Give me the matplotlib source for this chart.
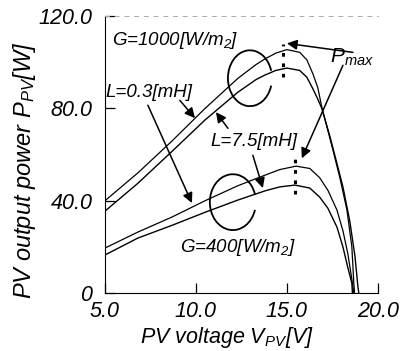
import matplotlib
matplotlib.use("Agg")
import matplotlib.pyplot as plt
from matplotlib.patches import Arc

plt.rcParams["font.family"] = ["Liberation Sans", "DejaVu Sans"]
plt.rcParams["font.style"] = "italic"
plt.rcParams["mathtext.fontset"] = "custom"
plt.rcParams["mathtext.rm"] = "Liberation Sans:italic"
plt.rcParams["mathtext.it"] = "Liberation Sans:italic"
plt.rcParams["mathtext.sf"] = "Liberation Sans:italic"

# G=1000 W/m2, L=0.3 mH (upper curve)
v_1000_03 = [5.0, 6.8, 8.7, 10.5, 12.3, 13.3, 13.8, 14.4, 15.0, 15.71, 16.10, 16.43, 16.70, 16.92,
             17.20, 17.53, 17.91, 18.30, 18.57, 18.68, 18.72]
p_1000_03 = [40.0, 52.0, 66.0, 80.0, 93.0, 99.0, 101.5, 104.0, 105.5, 104.3, 101.0, 95.0, 89.0, 80.5,
             72.0, 62.0, 50.0, 36.0, 20.0, 4.0, 0.0]
# G=1000 W/m2, L=7.5 mH
v_1000_75 = [5.0, 6.8, 8.7, 10.5, 12.3, 13.3, 13.8, 14.4, 15.0, 15.7, 16.1, 16.43, 16.7, 16.92,
             17.36, 17.69, 18.08, 18.46, 18.74, 18.9, 18.95]
p_1000_75 = [35.5, 47.5, 61.5, 75.0, 87.0, 92.5, 94.5, 96.5, 97.5, 96.5, 93.5, 88.5, 84.0, 80.0,
             68.0, 58.0, 46.0, 31.0, 16.0, 3.0, 0.0]
# G=400 W/m2, L=0.3 mH
v_400_03 = [5.0, 6.8, 8.7, 10.5, 12.3, 13.6, 14.6, 15.5, 16.26, 16.8, 17.25, 17.75, 18.08, 18.35,
            18.55, 18.68]
p_400_03 = [19.5, 26.4, 33.0, 40.0, 46.5, 50.5, 53.5, 55.0, 54.0, 50.0, 44.6, 36.0, 27.0, 17.0,
            7.0, 0.0]
# G=400 W/m2, L=7.5 mH
v_400_75 = [5.0, 6.8, 8.7, 10.5, 12.3, 13.8, 14.6, 15.44, 16.26, 16.8, 17.25, 17.75, 18.08, 18.35,
            18.57, 18.6]
p_400_75 = [16.5, 23.8, 29.4, 35.0, 40.3, 44.3, 46.0, 46.8, 45.5, 41.6, 36.8, 28.6, 20.0, 11.0,
            4.3, 0.0]

# Pmax markers (voltage, low power, high power)
pmax_1000 = (14.8, 93.5, 108.0)
pmax_400 = (15.45, 43.0, 59.0)

xticks = [5, 10, 15, 20]
xlabels = ["5.0", "10.0", "15.0", "20.0"]
yticks = [0, 40, 80, 120]
ylabels = ["0", "40.0", "80.0", "120.0"]

fig = plt.figure(figsize=(4.02, 3.51), dpi=100)
ax = fig.add_axes([0.261, 0.165, 0.679, 0.789])

ax.plot(v_1000_03, p_1000_03, color="black", lw=0.9)
ax.plot(v_1000_75, p_1000_75, color="black", lw=1.0)
ax.plot(v_400_03, p_400_03, color="black", lw=0.9)
ax.plot(v_400_75, p_400_75, color="black", lw=1.0)

for v, lo, hi in [pmax_1000, pmax_400]:
    ax.plot([v, v], [lo, hi], color="black", lw=2.2, ls=(0, (1.2, 2.2)))

# grouping arcs
ax.add_patch(Arc((12.97, 93.1), 2.42, 24.2, theta1=70, theta2=290, color="black", lw=1.3))
ax.add_patch(Arc((12.03, 39.4), 2.53, 24.2, theta1=70, theta2=290, color="black", lw=1.3))

ap = dict(arrowstyle="-|>", color="black", lw=1.1, mutation_scale=15,
          shrinkA=0, shrinkB=0)
ax.annotate("", xy=(9.78, 39.0), xytext=(7.36, 81.4), arrowprops=ap)
ax.annotate("", xy=(9.95, 75.8), xytext=(9.12, 83.5), arrowprops=ap)
ax.annotate("", xy=(11.1, 78.4), xytext=(11.76, 71.4), arrowprops=ap)
ax.annotate("", xy=(13.68, 45.5), xytext=(13.13, 59.7), arrowprops=ap)
ax.annotate("", xy=(15.0, 108.2), xytext=(18.63, 104.3), arrowprops=ap)
ax.annotate("", xy=(15.82, 58.4), xytext=(18.08, 98.7), arrowprops=ap)

fs = 13.5
ax.text(5.38, 109.5, "G=1000[W/m$_2$]", fontsize=fs, va="center", ha="left")
ax.text(5.05, 87.0, "L=0.3[mH]", fontsize=fs, va="center", ha="left")
ax.text(10.82, 65.8, "L=7.5[mH]", fontsize=fs, va="center", ha="left")
ax.text(9.12, 19.9, "G=400[W/m$_2$]", fontsize=fs, va="center", ha="left")
ax.text(17.36, 102.0, "P$_{max}$", fontsize=fs + 1.5, va="center", ha="left", clip_on=False)

ax.set_xlim(5, 20)
ax.set_ylim(0, 120)
ax.set_xticks(xticks)
ax.set_xticklabels(xlabels)
ax.set_yticks(yticks)
ax.set_yticklabels(ylabels)
ax.tick_params(direction="in", length=7, width=0.9, labelsize=15.5)
ax.tick_params(axis="x", pad=6)
ax.tick_params(axis="y", pad=9)

ax.spines["right"].set_visible(False)
ax.spines["top"].set_linestyle((0, (4, 6)))
ax.spines["top"].set_color("#aaaaaa")
ax.spines["top"].set_linewidth(0.7)

ax.set_xlabel("PV voltage V$_{PV}$[V]", fontsize=15.5)
ax.set_ylabel("PV output power P$_{PV}$[W]", fontsize=17)
ax.xaxis.set_label_coords(0.447, -0.115)
ax.yaxis.set_label_coords(-0.245, 0.444)

fig.savefig("out.png", dpi=100)
